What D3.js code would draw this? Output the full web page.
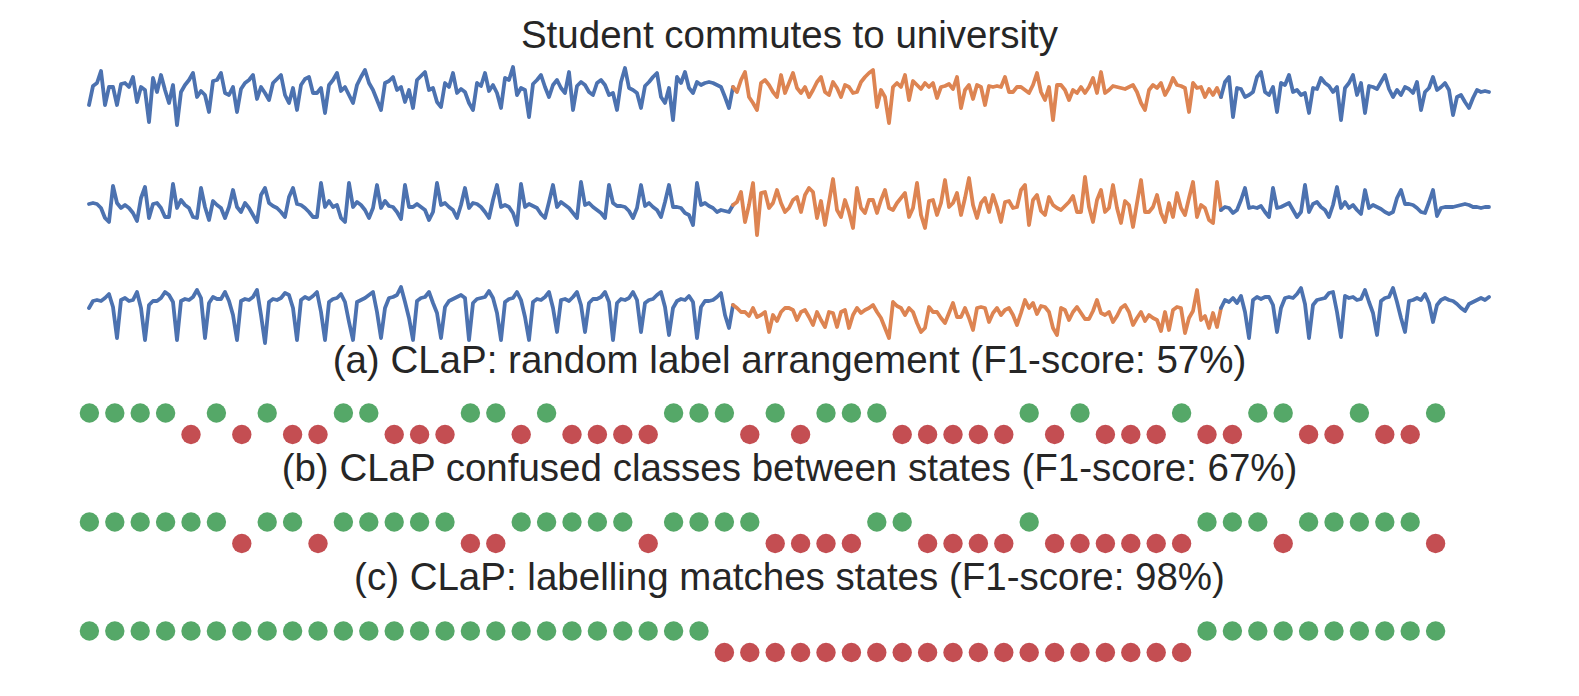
<!DOCTYPE html>
<html>
<head>
<meta charset="utf-8">
<script src="https://cdn.jsdelivr.net/npm/d3@7"></script>
<style>
  html, body { margin: 0; padding: 0; background: #ffffff; }
  svg { display: block; }
  text { font-family: "Liberation Sans", Arial, sans-serif; fill: #262626; }
</style>
</head>
<body>
<svg id="chart" width="1579" height="696"></svg>
<script>
// ---- data ----
const title = "Student commutes to university";
const captions = [
  "(a) CLaP: random label arrangement (F1-score: 57%)",
  "(b) CLaP confused classes between states (F1-score: 67%)",
  "(c) CLaP: labelling matches states (F1-score: 98%)"
];
// state boundaries (sample index) : state 0 -> state 1 -> state 0
const changePoints = [161, 283];

const series1 = [
25,44,47,59,25,43,43,25,46,47, 43,53,28,43,40,8,52,38,55,40, 27,45,5,38,45,50,57,33,39,35,
18,49,50,57,37,35,43,18,41,47, 50,55,31,43,37,30,47,51,55,35, 27,42,20,45,51,53,37,37,42,17,
45,50,57,39,43,35,27,45,53,60, 47,40,30,20,47,49,53,40,43,28, 40,22,50,54,58,40,42,28,23,47,
43,57,37,41,38,27,20,47,
44,57,39,45,37,22,52,50,63,35, 42,40,13,46,50,55,43,33,45,50, 42,37,58,20,44,48,45,38,35,47,
50,45,35,37,20,48,62,42,40,37, 22,44,48,53,57,33,27,42,10,53, 47,58,42,37,48,45,47,48,47,45,
43,33,22,43,38,50,58,33,27,20, 47,50,45,38,33,55,37,47,57,42, 37,43,33,40,48,53,38,35,48,42,
33,45,43,37,38,48,53,57,
60,23,40,33,7,43,47,43,55,30, 49,45,41,47,43,47,32,43,44,46, 41,53,22,40,45,31,45,43,25,44,
43,44,43,53,38,38,43,43,40,37, 45,57,38,30,43,10,45,45,40,30, 40,37,43,37,43,52,37,58,37,40,
44,43,42,41,43,45,38,27,20,40, 45,42,47,35,42,52,45,44,42,18, 47,42,43,33,41,35,42,33,48,53,
13,42,41,33,35,38,53,
58,38,35,43,18,47,45,55,38,40, 35,37,17,42,41,52,47,44,38,43, 10,42,47,55,35,47,17,44,43,41,
48,55,41,33,40,35,43,41,37,48, 20,38,42,53,40,43,47,40,15,33, 35,28,22,32,40,38,39,38
];

const series2 = [
41,42,41,37,27,23,59,42,37,40, 37,32,24,47,58,27,41,42,37,28, 28,61,37,45,40,37,28,27,57,38,
25,44,40,37,27,38,55,38,33,42, 37,30,23,50,57,42,39,37,33,28, 48,57,41,40,37,33,28,28,62,38,
44,38,40,27,23,62,38,43,40,35, 27,37,60,37,44,39,38,33,26,60, 38,38,41,38,35,25,33,62,40,42,
38,35,27,40,57,37,42,41,38,33, 27,45,60,38,40,38,32,20,61,38, 41,39,37,31,27,43,60,38,43,40,
37,32,27,63,40,42,38,35,32,27, 60,42,39,39,38,34,27,37,60,39, 42,38,35,28,43,60,38,38,37,32,
30,20,62,40,42,39,37,33,35,34, 33,40,43,53,23,40,62,10,52,53, 37,42,55,42,33,37,
45,48,33,50,57,53,27,44,20,43, 66,35,28,45,33,17,57,37,32,45, 45,32,45,55,37,35,42,47,52,28,
37,62,30,17,44,45,30,42,65,38, 42,52,30,47,67,40,27,42,47,33, 50,38,23,43,44,37,38,55,60,20,
45,50,34,30,48,40,37,35,39,43, 49,33,33,68,38,23,45,55,33,37, 60,37,22,44,40,18,42,65,33,33,
38,50,32,23,42,28,52,37,30,47, 63,28,40,37,25,22,63,35,38,37, 32,35,45,57,37,38,37,39,33,28,
57,37,38,40,42,35,28,33,60,33, 41,43,38,35,28,40,58,37,43,37, 40,35,31,55,37,40,38,36,33,31,
33,47,55,41,41,40,37,33,32,43, 55,29,37,38,38,38,39,40,41,40, 38,38,37,38,38
];

const series3 = [
37,44,45,44,47,51,38,7,45,47, 44,45,53,37,5,40,44,44,47,53, 50,43,5,44,46,45,48,55,47,7,
42,48,46,46,53,44,30,5,44,46, 45,48,55,30,2,43,46,45,47,52, 50,37,5,45,48,46,49,53,33,5,
43,46,47,51,43,23,5,43,45,47, 50,53,33,7,37,47,48,50,58,43, 27,5,44,47,48,53,42,32,7,38,
44,46,48,50,47,5,42,46,47,48, 54,47,32,5,43,46,47,53,45,28, 5,43,46,45,48,53,37,13,45,46,
44,48,53,40,13,42,46,46,48,53, 43,5,42,46,45,47,53,45,13,42, 45,46,50,53,38,10,37,44,46,45,
49,43,7,38,44,44,45,48,52,30, 17,40,37,33,33,29,37,28,30,33, 13,30,24,33,37,37,
35,25,33,35,28,20,33,25,18,33, 32,18,33,35,17,30,37,32,35,37, 40,33,27,17,7,43,39,37,30,37,
33,22,13,17,38,33,33,27,22,32, 42,28,28,37,27,15,37,38,37,23, 32,37,30,35,37,30,20,32,45,37,
42,31,39,38,33,17,10,37,35,25, 33,38,32,26,26,34,45,32,30,33, 23,29,37,40,33,20,27,33,24,30,
27,25,14,33,15,35,38,37,12,27, 34,55,25,29,17,32,18,37,45,43, 47,42,49,33,7,45,48,46,48,48,
40,13,37,47,48,47,51,57,41,7, 40,45,46,47,52,53,33,8,49,47, 48,45,46,55,43,32,10,44,47,48,
57,43,27,13,44,45,47,45,51,42, 23,40,45,47,45,44,41,37,34,41, 43,45,47,45,48
];

// predicted label per window: 1 = correct class (green), 0 = other class (red)
const labelsA = [1,1,1,1,0,1,0,1,0,0,1,1,0,0,0,1,1,0,1,0,0,0,0,1,1,1,0,1,0,1,1,1,0,0,0,0,0,1,0,1,0,0,0,1,0,0,1,1,0,0,1,0,0,1];
const labelsB = [1,1,1,1,1,1,0,1,1,0,1,1,1,1,1,0,0,1,1,1,1,1,0,1,1,1,1,0,0,0,0,1,1,0,0,0,0,1,0,0,0,0,0,0,1,1,1,0,1,1,1,1,1,0];
const labelsC = [1,1,1,1,1,1,1,1,1,1,1,1,1,1,1,1,1,1,1,1,1,1,1,1,1,0,0,0,0,0,0,0,0,0,0,0,0,0,0,0,0,0,0,0,1,1,1,1,1,1,1,1,1,1];

// ---- drawing ----
const W = 1579, H = 696;
const svg = d3.select("#chart");
const blue = "#4c72b0", orange = "#dd8452", green = "#55a868", red = "#c44e52";
const fontSize = "38.5px";

const x = d3.scaleLinear().domain([0, series1.length - 1]).range([89, 1489]);

svg.append("text").attr("x", W / 2).attr("y", 48)
  .attr("text-anchor", "middle").style("font-size", fontSize).text(title);

const rows = [
  { data: series1, range: [130, 60] },
  { data: series2, range: [245, 175] },
  { data: series3, range: [345, 275] }
];
const segs = [[0, changePoints[0], blue], [changePoints[0], changePoints[1], orange], [changePoints[1], series1.length - 1, blue]];

rows.forEach(r => {
  const y = d3.scaleLinear().domain([0, 70]).range(r.range);
  const line = d3.line().x(d => x(d[0])).y(d => y(d[1]));
  segs.forEach(([a, b, c]) => {
    const pts = r.data.slice(a, b + 1).map((v, i) => [a + i, v]);
    svg.append("path").attr("d", line(pts))
      .attr("fill", "none").attr("stroke", c).attr("stroke-width", 3.8)
      .attr("stroke-linejoin", "round").attr("stroke-linecap", "round");
  });
});

const xd = d3.scaleLinear().domain([0, labelsA.length - 1]).range([89.4, 1435.6]);
const dotRows = [
  { labels: labelsA, cap: captions[0], capY: 373, top: 413 },
  { labels: labelsB, cap: captions[1], capY: 481, top: 522 },
  { labels: labelsC, cap: captions[2], capY: 590, top: 631 }
];
dotRows.forEach(r => {
  svg.append("text").attr("x", W / 2).attr("y", r.capY)
    .attr("text-anchor", "middle").style("font-size", fontSize).text(r.cap);
  const yd = d3.scaleOrdinal().domain([1, 0]).range([r.top, r.top + 21.5]);
  svg.append("g").selectAll("circle").data(r.labels).join("circle")
    .attr("cx", (d, i) => xd(i)).attr("cy", d => yd(d)).attr("r", 9.7)
    .attr("fill", d => d ? green : red);
});
</script>
</body>
</html>
